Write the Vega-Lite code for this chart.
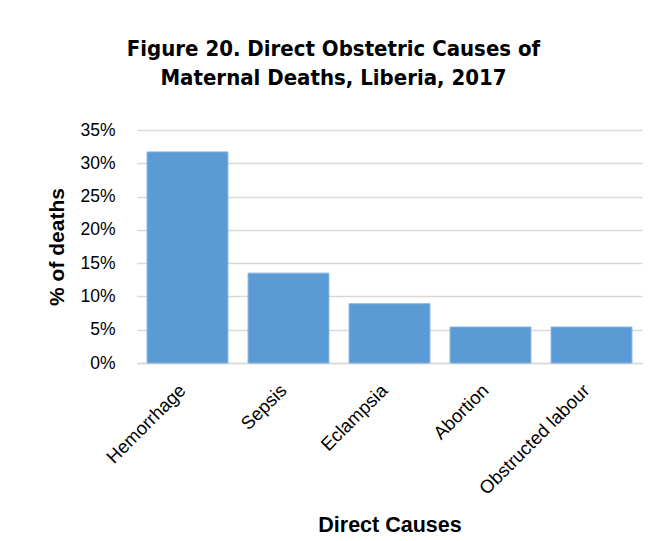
{
  "$schema": "https://vega.github.io/schema/vega-lite/v6.json",
  "width": 505,
  "height": 233,
  "autosize": {"type": "none"},
  "padding": {"left": 137, "top": 130, "right": 26, "bottom": 178},
  "background": "white",
  "title": {
    "text": ["Figure 20. Direct Obstetric Causes of", "Maternal Deaths, Liberia, 2017"],
    "font": "DejaVu Sans Condensed",
    "fontSize": 22,
    "fontWeight": "bold",
    "color": "#000000",
    "anchor": "middle",
    "lineHeight": 29,
    "dx": -56,
    "offset": 31
  },
  "data": {
    "values": [
      {"cause": "Hemorrhage", "share": 0.317},
      {"cause": "Sepsis", "share": 0.135},
      {"cause": "Eclampsia", "share": 0.089},
      {"cause": "Abortion", "share": 0.054},
      {"cause": "Obstructed labour", "share": 0.054}
    ]
  },
  "mark": {"type": "bar", "color": "#5B9BD5", "stroke": "#7fb1e0", "strokeWidth": 1},
  "encoding": {
    "x": {
      "field": "cause",
      "type": "nominal",
      "sort": null,
      "scale": {"paddingInner": 0.2, "paddingOuter": 0.1},
      "axis": {
        "title": "Direct Causes",
        "titleFont": "Liberation Sans",
        "titleFontSize": 21.5,
        "titleFontWeight": "bold",
        "titleColor": "#000000",
        "titleY": 168,
        "titleBaseline": "alphabetic",
        "labelAngle": -45,
        "labelAlign": "right",
        "labelBaseline": "middle",
        "labelFont": "Liberation Sans",
        "labelFontSize": 18.5,
        "labelColor": "#000000",
        "labelPadding": 24,
        "labelOffset": -5,
        "ticks": false,
        "tickSize": 0,
        "domainColor": "#d9d9d9",
        "domainWidth": 1.5
      }
    },
    "y": {
      "field": "share",
      "type": "quantitative",
      "scale": {"domain": [0, 0.35], "nice": false},
      "axis": {
        "title": "% of deaths",
        "titleFont": "Liberation Sans",
        "titleFontSize": 21,
        "titleFontWeight": "bold",
        "titleColor": "#000000",
        "titleAngle": -90,
        "titleX": -74,
        "titleY": 116.5,
        "titleAlign": "center",
        "titleBaseline": "alphabetic",
        "values": [0, 0.05, 0.1, 0.15, 0.2, 0.25, 0.3, 0.35],
        "format": ".0%",
        "labelFont": "Liberation Sans",
        "labelFontSize": 17.5,
        "labelColor": "#000000",
        "labelPadding": 22,
        "ticks": false,
        "tickSize": 0,
        "domain": false,
        "grid": true,
        "gridColor": "#d9d9d9",
        "gridWidth": 1.5
      }
    }
  },
  "config": {
    "view": {"stroke": null}
  }
}
